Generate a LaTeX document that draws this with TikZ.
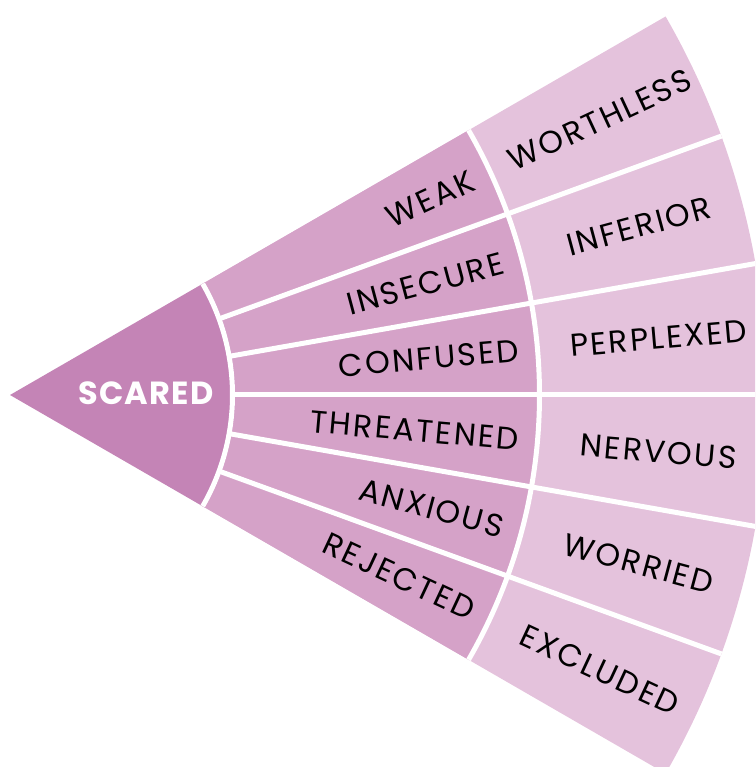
\documentclass[tikz,border=0pt]{standalone}
\usepackage{fontspec}
\setmainfont{Poppins}
\newfontfamily\wheelfont[LetterSpace=7]{Poppins}
\newfontfamily\corefont[LetterSpace=4]{Poppins}
\definecolor{scaredfill}{HTML}{C484B6}
\definecolor{midfill}{HTML}{D5A2C8}
\definecolor{outerfill}{HTML}{E4C2DC}
\begin{document}
\begin{tikzpicture}[x=1pt,y=1pt,
    gap/.style={white,line width=5pt},
    corelabel/.style={inner sep=0pt,text=white,font=\corefont\bfseries\fontsize{32}{36}\selectfont},
    midlabel/.style={inner sep=0pt,anchor=east,font=\wheelfont\fontsize{31.5}{36}\selectfont},
    outlabel/.style={inner sep=0pt,font=\wheelfont\fontsize{31.5}{36}\selectfont}]
  \useasboundingbox (-10,-372) rectangle (745,395);
  \clip (-10,-372) rectangle (745,395);
  % rings, outside in
  \fill[outerfill] (30:220) arc (30:-30:220) -- (-30:757) arc (-30:30:757) -- cycle;
  \fill[midfill] (30:220) arc (30:-30:220) -- (-30:530) arc (-30:30:530) -- cycle;
  \fill[scaredfill] (0,0) -- (30:225) arc (30:-30:225) -- cycle;
  % white separators
  \draw[gap] (30:222.5) arc (30:-30:222.5);
  \draw[gap] (30:529.5) arc (30:-30:529.5);
  \foreach \a in {-20,-10,0,10,20}
    \draw[gap] (\a:222) -- (\a:757);
  % labels
  \node[corelabel] (scared) at (136,2) {SCARED};
  \foreach \a/\name/\txt in {25/weak/WEAK,15/insecure/INSECURE,5/confused/CONFUSED,
      -5/threatened/THREATENED,-15/anxious/ANXIOUS,-25/rejected/REJECTED}
    \node[midlabel,rotate=\a] (\name) at (\a:511) {\txt};
  \foreach \a/\name/\txt in {25/worthless/WORTHLESS,15/inferior/INFERIOR,5/perplexed/PERPLEXED,
      -5/nervous/NERVOUS,-15/worried/WORRIED,-25/excluded/EXCLUDED}
    \node[outlabel,rotate=\a] (\name) at (\a:651) {\txt};
\end{tikzpicture}
\end{document}
